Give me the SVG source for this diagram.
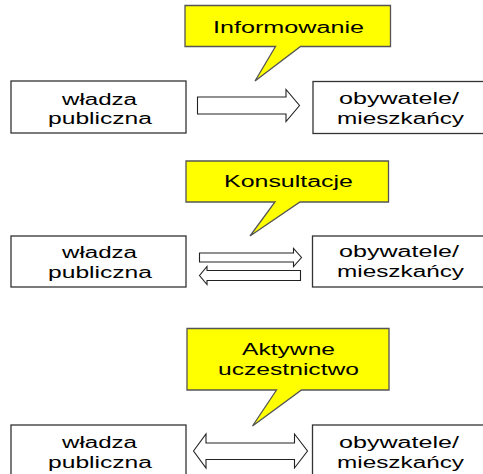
<svg xmlns="http://www.w3.org/2000/svg" width="483" height="474" viewBox="0 0 483 474">
<style>
.box{fill:#ffffff;stroke:#333333;stroke-width:1.3}
.call{fill:#ffff00;stroke:#555555;stroke-width:1.3;stroke-linejoin:miter}
.arr{fill:#ffffff;stroke:#222222;stroke-width:1.1;stroke-linejoin:miter}
text{font-family:"Liberation Sans",Arial,sans-serif;font-size:16px;fill:#000000}
</style>
<rect width="483" height="474" fill="#ffffff"/>
<g id="callout1"><path class="call" d="M185,5.5 H390.5 V46.5 H300.5 L255,81 L275.5,46.5 H185 Z"/><text x="213" y="32.5" textLength="151" lengthAdjust="spacingAndGlyphs">Informowanie</text></g>
<g id="authority1"><rect class="box" x="11" y="81" width="175" height="52"/><text x="62" y="104.5" textLength="75" lengthAdjust="spacingAndGlyphs">władza</text><text x="48" y="124" textLength="104" lengthAdjust="spacingAndGlyphs">publiczna</text></g>
<g id="citizens1"><rect class="box" x="313" y="81.5" width="180" height="52"/><text x="339" y="104" textLength="120" lengthAdjust="spacingAndGlyphs">obywatele/</text><text x="337" y="123.5" textLength="127" lengthAdjust="spacingAndGlyphs">mieszkańcy</text></g>
<g id="callout2"><path class="call" d="M186,161 H388.5 V202 H300 L250,236 L275,202 H186 Z"/><text x="224" y="187" textLength="129" lengthAdjust="spacingAndGlyphs">Konsultacje</text></g>
<g id="authority2"><rect class="box" x="11" y="236" width="175" height="51"/><text x="62" y="257.5" textLength="75" lengthAdjust="spacingAndGlyphs">władza</text><text x="48" y="277.5" textLength="104" lengthAdjust="spacingAndGlyphs">publiczna</text></g>
<g id="citizens2"><rect class="box" x="312.5" y="236" width="180" height="51"/><text x="339" y="257" textLength="120" lengthAdjust="spacingAndGlyphs">obywatele/</text><text x="337" y="277" textLength="127" lengthAdjust="spacingAndGlyphs">mieszkańcy</text></g>
<g id="callout3"><path class="call" d="M187,328.5 H389 V390 H301.5 L252.5,426 L276.5,390 H187 Z"/><text x="242" y="355" textLength="93" lengthAdjust="spacingAndGlyphs">Aktywne</text><text x="218" y="375" textLength="141" lengthAdjust="spacingAndGlyphs">uczestnictwo</text></g>
<g id="authority3"><rect class="box" x="11" y="425" width="175" height="60"/><text x="62" y="448" textLength="75" lengthAdjust="spacingAndGlyphs">władza</text><text x="48" y="467.5" textLength="104" lengthAdjust="spacingAndGlyphs">publiczna</text></g>
<g id="citizens3"><rect class="box" x="312.5" y="425" width="180" height="60"/><text x="339" y="448" textLength="120" lengthAdjust="spacingAndGlyphs">obywatele/</text><text x="337" y="467.5" textLength="127" lengthAdjust="spacingAndGlyphs">mieszkańcy</text></g>
<g id="connectors">
<path class="arr" d="M197.5,97 H286 V89.5 L299.5,105.5 L286,121.5 V114 H197.5 Z"/>
<path class="arr" d="M199.5,253 H293.5 V248.5 L301.5,257.5 L293.5,266.5 V262 H199.5 Z"/>
<path class="arr" d="M300.5,270.5 H207 V266.5 L199.5,275.5 L207,284.5 V280.5 H300.5 Z"/>
<path class="arr" d="M193.5,451 L206,434 V443 H294.5 V434 L307.5,451 L294.5,468 V459.5 H206 V468 Z"/>
</g>
</svg>
